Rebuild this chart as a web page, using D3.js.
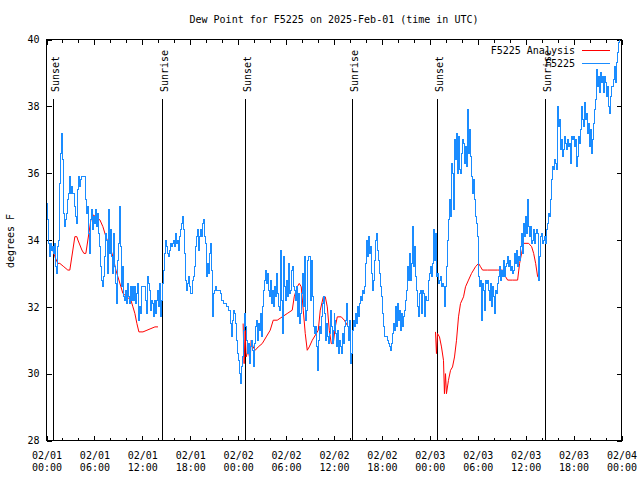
<!DOCTYPE html>
<html><head><meta charset="utf-8">
<script src="https://cdn.jsdelivr.net/npm/d3@7"></script>
<style>
body{margin:0;background:#fff}
svg{display:block}
text{font-family:"DejaVu Sans Mono",monospace;font-size:10px;fill:#000}
</style>
</head><body>
<svg id="chart" width="640" height="480"></svg>
<script>
const chartTitle = "Dew Point for F5225 on 2025-Feb-01 (time in UTC)";
const yAxisLabel = "degrees F";
const seriesNames = ["F5225 Analysis", "F5225"];
const seriesColors = ["#ff0000", "#1a8cff"];
const xDomain = ["2025-02-01T00:00:00Z", "2025-02-04T00:00:00Z"];
const yDomain = [28, 40];
const yTickValues = [28, 30, 32, 34, 36, 38, 40];

// F5225 observations, one value every 7.5 minutes from 2025-02-01 00:00 UTC
const obsStartUTC = "2025-02-01T00:00:00Z";
const obsStepMinutes = 7.5;
const obsValues = [
35.1,34.6,33.9,33.5,33.9,33.7,33.8,33.6,33.9,33.2,
33.0,33.8,34.0,35.7,36.6,37.2,36.4,34.8,34.4,34.6,
34.8,35.2,35.4,35.9,35.4,35.6,35.4,35.4,35.0,34.7,
34.5,35.5,35.9,35.6,35.8,35.9,35.9,35.9,35.9,35.2,
34.8,35.0,34.2,33.6,34.6,34.9,34.3,34.7,34.5,34.9,
34.4,34.8,34.2,33.8,33.2,32.8,32.6,32.9,33.5,34.2,
34.0,33.0,34.9,33.6,34.3,33.5,33.0,34.2,33.2,32.7,
32.1,33.4,33.9,35.0,33.8,32.6,33.2,32.3,32.2,32.5,
32.1,32.7,32.3,32.1,32.6,32.2,32.6,32.2,32.6,32.1,
32.4,32.7,31.6,32.0,31.8,32.6,32.6,32.6,32.6,32.2,
31.8,32.9,32.7,32.5,31.9,32.2,32.1,31.7,32.2,31.8,
32.2,32.5,32.0,32.7,31.7,32.2,32.7,33.1,33.6,34.0,
33.8,33.6,33.5,33.7,33.9,33.8,33.9,34.0,33.8,34.2,
33.9,34.0,33.7,34.1,34.3,34.5,34.7,34.3,33.6,32.8,
32.5,32.7,32.9,32.6,32.4,32.4,32.8,32.9,33.2,33.8,
34.1,34.3,33.7,34.1,34.3,34.1,34.5,34.6,34.1,33.9,
32.9,33.3,33.0,33.6,33.9,33.1,31.7,32.4,32.5,32.6,
32.5,32.5,32.5,32.5,32.4,32.2,32.2,32.1,32.1,32.1,
32.0,32.0,31.9,31.9,31.5,31.1,31.6,31.9,31.8,31.5,
31.0,30.6,30.4,30.0,29.7,30.2,30.5,31.3,31.8,31.4,
31.0,30.6,30.9,30.3,30.8,31.0,30.7,30.2,30.9,31.4,
31.6,31.0,31.5,31.3,31.8,31.1,32.0,32.5,32.8,33.1,
32.7,33.0,32.5,32.3,32.8,32.1,32.5,32.0,32.6,32.3,
33.0,32.4,32.0,31.9,33.7,32.2,31.2,33.5,32.6,32.2,
32.8,32.3,33.3,32.4,32.5,33.1,33.2,32.6,32.5,32.2,
32.6,31.7,32.4,31.5,31.8,32.4,33.0,32.0,33.5,31.6,
31.9,33.4,33.5,33.5,32.2,33.4,32.3,31.4,31.2,31.4,
30.8,30.1,31.0,31.4,31.2,31.7,32.1,32.3,31.8,31.0,
31.5,31.1,30.9,31.2,31.9,31.4,30.9,31.3,31.8,31.6,
31.2,30.8,31.3,30.6,31.0,30.8,30.6,31.2,30.9,31.4,
31.6,32.1,31.4,31.0,31.6,30.3,30.6,31.3,31.6,31.4,
31.8,31.5,32.0,31.7,32.1,32.3,32.2,32.5,32.4,32.6,
33.3,34.0,33.5,34.1,33.6,33.8,33.0,32.5,32.8,33.4,
34.0,34.2,33.7,33.4,33.0,32.6,32.3,31.8,31.4,31.1,
31.1,31.1,31.0,30.9,30.8,30.7,30.9,31.2,31.5,31.3,
32.0,31.4,32.1,31.6,31.9,31.3,31.8,31.4,31.7,31.9,
32.2,32.5,33.2,32.8,33.6,32.8,33.3,34.4,33.2,33.8,
32.9,32.5,32.0,31.7,32.4,32.5,31.8,32.5,32.4,31.7,
32.3,32.2,32.2,32.8,33.0,33.2,32.9,33.3,34.3,33.4,
34.2,32.9,33.0,32.7,32.8,32.9,32.6,32.7,32.6,32.0,
32.6,33.2,34.0,34.6,35.2,34.7,36.3,36.0,34.9,37.0,
36.4,37.2,36.0,37.1,36.1,36.0,36.6,37.0,36.9,36.3,
36.8,36.2,37.9,36.6,37.3,36.5,35.9,35.4,35.8,35.2,
34.7,34.5,34.1,32.9,32.6,32.8,31.6,32.7,32.5,31.9,
32.8,32.7,32.8,32.5,32.2,32.7,32.0,32.6,32.3,31.8,
32.5,32.4,32.7,32.9,33.2,32.8,33.1,32.9,33.4,32.9,
33.2,33.3,33.5,33.2,33.4,33.1,33.2,33.0,33.1,33.6,
33.3,33.7,33.2,33.5,33.4,33.8,34.2,33.6,34.5,34.1,
34.7,34.2,35.2,34.4,34.1,34.4,33.9,34.0,34.3,33.9,
34.2,34.3,34.2,32.8,33.5,34.1,34.2,33.9,34.0,34.1,
33.9,34.3,34.5,34.8,34.7,35.2,35.8,36.2,36.1,36.4,
36.3,36.1,38.0,37.4,37.6,36.7,37.0,36.5,36.7,37.1,
36.9,36.7,37.0,36.8,36.9,36.3,37.1,37.0,37.1,36.8,
37.0,36.2,36.5,37.1,36.9,37.3,38.0,37.6,37.4,38.1,
37.6,37.8,37.2,37.5,36.8,37.3,36.6,37.0,37.5,37.9,
38.2,39.1,38.6,38.9,38.4,39.0,38.7,38.9,38.4,38.9,
38.7,38.3,38.6,38.0,37.8,38.3,38.6,38.6,38.8,39.2,
38.7,39.3,39.6,39.9,40.0
];

// F5225 Analysis: hours after 2025-02-01 00:00 UTC (null = gap)
const anaHours = [
0.41,0.79,1.04,1.42,1.67,2.17,2.67,2.92,3.30,3.55,3.80,3.93,4.43,4.68,4.93,5.18,5.56,5.81,6.19,6.69,
7.06,7.44,7.94,8.32,8.69,8.94,9.32,9.57,10.07,10.57,10.82,11.07,11.32,11.57,12.08,12.58,13.08,13.58,13.96,
14.5,
24.62,24.75,24.87,25.0,25.25,25.50,25.63,25.88,26.13,26.51,27.01,27.51,28.01,28.39,28.89,29.52,30.14,30.77,
31.02,31.40,31.65,31.90,32.15,32.40,32.65,32.90,33.28,33.78,34.03,34.28,34.66,34.91,35.16,35.41,35.66,35.91,
36.16,36.41,36.91,37.29,37.79,
40.0,
48.71,48.83,48.96,49.21,49.46,49.71,49.83,49.96,50.08,50.33,50.59,50.84,51.09,51.34,51.59,51.84,52.22,52.47,
52.84,53.22,53.72,54.10,54.35,54.60,55.23,56.48,57.11,57.49,57.74,58.37,58.99,59.24,59.49,59.75,60.37,60.75,
61.00,61.25,61.50,61.62
];
const anaValues = [
33.8,33.7,33.5,33.3,33.3,33.2,33.1,33.1,33.7,34.1,34.1,34.0,33.7,33.6,33.6,34.0,34.6,34.75,34.7,34.6,
34.4,34.1,33.8,33.5,33.1,32.9,32.6,32.4,32.3,32.2,32.0,31.8,31.5,31.25,31.25,31.3,31.35,31.4,31.4,
null,
31.5,30.3,31.3,30.5,30.7,30.4,31.0,30.8,30.7,30.8,30.9,31.1,31.3,31.6,31.6,31.7,31.8,31.9,
32.3,32.6,32.7,32.6,31.9,31.2,30.7,30.8,31.0,31.2,31.3,31.9,32.3,32.3,32.0,31.3,30.9,30.9,
31.4,31.7,31.7,31.6,31.4,
null,
31.25,30.6,31.2,31.1,30.8,30.4,29.4,30.0,29.4,29.8,30.1,30.2,30.5,31.0,31.7,32.1,32.3,32.6,
32.8,33.0,33.2,33.3,33.2,33.1,33.1,33.1,33.1,32.9,32.8,32.8,32.8,33.3,33.6,33.9,33.9,33.8,
33.6,33.3,32.9,32.9
];

const sunLabels = ["Sunset", "Sunrise", "Sunset", "Sunrise", "Sunset", "Sunrise"];
const sunHours = [0.83, 14.50, 24.87, 38.33, 48.96, 62.54];

// ---------------------------------------------------------------
const svg = d3.select("#chart");
const L = 46.5, R = 621.5, T = 39.5, B = 440.5;
const t0 = new Date(xDomain[0]).getTime();
const hourToDate = h => new Date(t0 + h * 3600e3);

const x = d3.scaleUtc().domain(xDomain.map(d => new Date(d))).range([L, R]);
const y = d3.scaleLinear().domain(yDomain).range([B, T]);

const obsStart = new Date(obsStartUTC).getTime();
const obs = obsValues.map((v, i) => ({ t: new Date(obsStart + i * obsStepMinutes * 60e3), v }));
const ana = anaHours.map((h, i) => ({ t: hourToDate(h), v: anaValues[i] }));

function styleAxis(g) {
  g.select(".domain").remove();
  g.attr("font-family", "DejaVu Sans Mono").attr("font-size", 10);
  g.selectAll(".tick line").attr("stroke", "#000").attr("shape-rendering", "crispEdges");
}

// minor ticks (2 h)
svg.append("g").attr("transform", `translate(0,${B})`)
  .call(d3.axisBottom(x).ticks(d3.utcHour.every(2)).tickSize(-3).tickSizeOuter(0).tickFormat(""))
  .call(styleAxis);
svg.append("g").attr("transform", `translate(0,${T})`)
  .call(d3.axisTop(x).ticks(d3.utcHour.every(2)).tickSize(-3).tickSizeOuter(0).tickFormat(""))
  .call(styleAxis);

// major ticks (6 h)
const fmtDay = d3.utcFormat("%m/%d"), fmtTime = d3.utcFormat("%H:%M");
const gxb = svg.append("g").attr("transform", `translate(0,${B})`)
  .call(d3.axisBottom(x).ticks(d3.utcHour.every(6)).tickSize(-5).tickSizeOuter(0).tickFormat(""))
  .call(styleAxis);
gxb.selectAll(".tick text").remove();
gxb.selectAll(".tick").each(function(d) {
  const t = d3.select(this).append("text").attr("text-anchor", "middle").attr("fill", "#000");
  t.append("tspan").attr("x", 0).attr("y", 18).text(fmtDay(d));
  t.append("tspan").attr("x", 0).attr("y", 30).text(fmtTime(d));
});
svg.append("g").attr("transform", `translate(0,${T})`)
  .call(d3.axisTop(x).ticks(d3.utcHour.every(6)).tickSize(-5).tickSizeOuter(0).tickFormat(""))
  .call(styleAxis);

// y axes
svg.append("g").attr("transform", `translate(${L},0)`)
  .call(d3.axisLeft(y).tickValues(yTickValues).tickSize(-5).tickSizeOuter(0).tickPadding(7).tickFormat(d3.format("d")))
  .call(styleAxis)
  .selectAll(".tick text").attr("fill", "#000");
svg.append("g").attr("transform", `translate(${R},0)`)
  .call(d3.axisRight(y).tickValues(yTickValues).tickSize(-5).tickSizeOuter(0).tickFormat(""))
  .call(styleAxis);

// frame
svg.append("rect").attr("x", L).attr("y", T).attr("width", R - L).attr("height", B - T)
  .attr("fill", "none").attr("stroke", "#000").attr("shape-rendering", "crispEdges");

// sunrise / sunset markers
sunHours.forEach((h, i) => {
  const px = x(hourToDate(h));
  svg.append("line").attr("x1", px).attr("x2", px).attr("y1", 99).attr("y2", B)
    .attr("stroke", "#000").attr("shape-rendering", "crispEdges");
  svg.append("text").attr("transform", `translate(${px + 5.5},92) rotate(-90)`)
    .attr("text-anchor", "start").text(sunLabels[i]);
});

// data
svg.append("clipPath").attr("id", "plotclip").append("rect")
  .attr("x", L).attr("y", T - 1).attr("width", R - L + 1).attr("height", B - T + 2);
const plot = svg.append("g").attr("clip-path", "url(#plotclip)");

plot.append("path").datum(ana)
  .attr("fill", "none").attr("stroke", seriesColors[0]).attr("stroke-width", 1)
  .attr("d", d3.line().defined(d => d.v != null).x(d => x(d.t)).y(d => y(d.v)));

plot.append("path").datum(obs)
  .attr("fill", "none").attr("stroke", seriesColors[1]).attr("stroke-width", 1)
  .attr("shape-rendering", "crispEdges")
  .attr("d", d3.line().x(d => x(d.t)).y(d => y(d.v)).curve(d3.curveStepAfter));

// legend
seriesNames.forEach((name, i) => {
  const ly = 50.5 + i * 13;
  svg.append("text").attr("x", 575).attr("y", ly + 3.5).attr("text-anchor", "end").text(name);
  svg.append("line").attr("x1", 582).attr("x2", 610).attr("y1", ly).attr("y2", ly)
    .attr("stroke", seriesColors[i]).attr("shape-rendering", "crispEdges");
});

// title and axis label
svg.append("text").attr("x", 334).attr("y", 23).attr("text-anchor", "middle").text(chartTitle);
svg.append("text").attr("transform", "translate(13.5,241) rotate(-90)")
  .attr("text-anchor", "middle").text(yAxisLabel);
</script>
</body></html>
